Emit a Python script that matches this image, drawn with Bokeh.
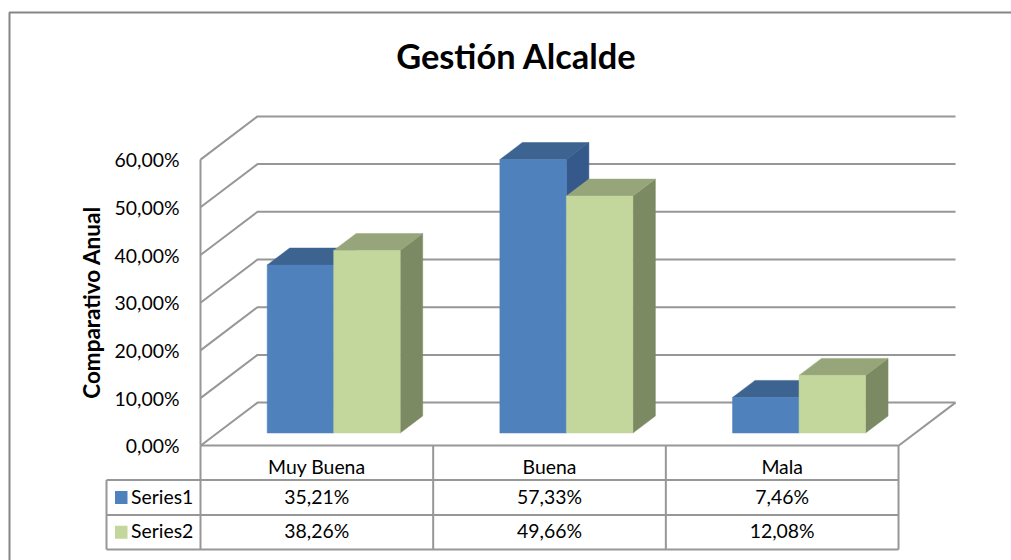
from bokeh.plotting import figure
from bokeh.models import Range1d, FixedTicker
from bokeh.core.properties import value
from bokeh.embed import file_html
from bokeh.resources import INLINE

title = "Gestión Alcalde"
y_title = "Comparativo Anual"
categories = ["Muy Buena", "Buena", "Mala"]
series_names = ["Series1", "Series2"]
series1 = [35.21, 57.33, 7.46]
series2 = [38.26, 49.66, 12.08]
series1_labels = ["35,21%", "57,33%", "7,46%"]
series2_labels = ["38,26%", "49,66%", "12,08%"]
y_ticks = [0, 10, 20, 30, 40, 50, 60]
y_tick_labels = ["0,00%", "10,00%", "20,00%", "30,00%", "40,00%", "50,00%", "60,00%"]

FONT = value("Lato")
W, H = 1011, 560
OX, OY = 200.0, 445.3       # page pixel of the origin
SX, SY = 232.67, 4.77       # pixels per category, pixels per percent
GRID = "#979797"
LABEL_SIZE = "19.4px"

def X(px): return (px - OX) / SX
def Y(py): return (OY - py) / SY
def DX(px): return px / SX
def DY(px): return px / SY

p = figure(width=W, height=H, output_backend="svg", toolbar_location=None,
           x_range=Range1d(X(0), X(W)), y_range=Range1d(Y(H), Y(0)),
           min_border=0, min_border_left=0, min_border_right=0, min_border_top=0, min_border_bottom=0)
p.outline_line_color = None
p.grid.visible = False

# outer frame
p.line([X(9), X(9), X(W)], [Y(H), Y(12), Y(12)], line_color="#858585", line_width=2)

# walls and floor
wall_dx, wall_dy = DX(57), DY(43.2)
n = len(categories)
for t in y_ticks:
    p.line([0, wall_dx, n + wall_dx], [t, t + wall_dy, t + wall_dy], line_color=GRID, line_width=2)
p.line([n + wall_dx, n], [wall_dy, 0], line_color=GRID, line_width=2)

# 3D bars
bar_w, bar_off = 66.5 / SX, 66.7 / SX
base = DY(12.8)
dep_x, dep_y = DX(22.5), DY(17)
styles = [("#4F81BD", "#3D6391", "#35598A"), ("#C3D69B", "#97A67A", "#7C8A63")]
for i in range(n):
    for j, vals in enumerate([series1, series2]):
        front, top, side = styles[j]
        x0 = i + bar_off + j * bar_w
        x1 = x0 + bar_w
        y1 = base + vals[i]
        p.patch([x1, x1 + dep_x, x1 + dep_x, x1], [base, base + dep_y, y1 + dep_y, y1], fill_color=side, line_color=side, line_width=0.5)
        p.patch([x0, x0 + dep_x, x1 + dep_x, x1], [y1, y1 + dep_y, y1 + dep_y, y1], fill_color=top, line_color=top, line_width=0.5)
        p.quad(left=[x0], right=[x1], bottom=[base], top=[y1], fill_color=front, line_color=front, line_width=0.5)

# axes
p.yaxis.fixed_location = 0
p.yaxis.bounds = (0, 60)
p.yaxis.ticker = FixedTicker(ticks=y_ticks)
p.yaxis.major_label_overrides = dict(zip(y_ticks, y_tick_labels))
p.yaxis.major_tick_line_color = None
p.yaxis.minor_tick_line_color = None
p.yaxis.axis_line_color = GRID
p.yaxis.axis_line_width = 2
p.yaxis.major_label_standoff = 15
p.yaxis.major_label_text_font = "Lato"
p.yaxis.major_label_text_font_size = LABEL_SIZE
p.yaxis.major_label_text_color = "#000000"
p.yaxis.axis_label = y_title
p.yaxis.axis_label_text_font = "Lato"
p.yaxis.axis_label_text_font_style = "bold"
p.yaxis.axis_label_text_font_size = "22.5px"
p.yaxis.axis_label_text_color = "#000000"
p.yaxis.axis_label_standoff = 7

cat_ticks = [i + 0.5 for i in range(n)]
p.xaxis.fixed_location = 0
p.xaxis.bounds = (0, n)
p.xaxis.ticker = FixedTicker(ticks=cat_ticks)
p.xaxis.major_label_overrides = dict(zip(cat_ticks, categories))
p.xaxis.major_tick_line_color = None
p.xaxis.minor_tick_line_color = None
p.xaxis.axis_line_color = GRID
p.xaxis.axis_line_width = 2
p.xaxis.major_label_standoff = 3
p.xaxis.major_label_text_font = "Lato"
p.xaxis.major_label_text_font_size = LABEL_SIZE
p.xaxis.major_label_text_color = "#000000"

# data table
rows = [479.5, 514.5, 549]
legend_x = 106
for r in rows:
    p.line([X(legend_x), n], [Y(r), Y(r)], line_color=GRID, line_width=2)
p.line([X(legend_x)] * 2, [Y(rows[0]), Y(rows[-1])], line_color=GRID, line_width=2)
p.line([0, 0], [0, Y(rows[-1])], line_color=GRID, line_width=2)
for i in range(1, n + 1):
    p.line([i, i], [0, Y(rows[-1])], line_color=GRID, line_width=2)

for k, (name, labels) in enumerate(zip(series_names, [series1_labels, series2_labels])):
    yc = Y((rows[k] + rows[k + 1]) / 2)
    p.quad(left=[X(114.5)], right=[X(127)], bottom=[yc - DY(6.5)], top=[yc + DY(6.5)],
           fill_color=styles[k][0], line_color=None)
    p.text([X(130.5)], [yc], text=[name], text_align="left", text_baseline="middle", y_offset=-1.5,
           text_font=FONT, text_font_size=LABEL_SIZE, text_color="#000000")
    p.text(cat_ticks, [yc] * n, text=labels, text_align="center", text_baseline="middle", y_offset=-1.5,
           text_font=FONT, text_font_size=LABEL_SIZE, text_color="#000000")

# title
p.text([X(516)], [Y(54.5)], text=[title], text_align="center", text_baseline="middle",
       text_font=FONT, text_font_style="bold", text_font_size="34.4px", text_color="#000000")

open("out.html", "w").write(file_html(p, INLINE))
